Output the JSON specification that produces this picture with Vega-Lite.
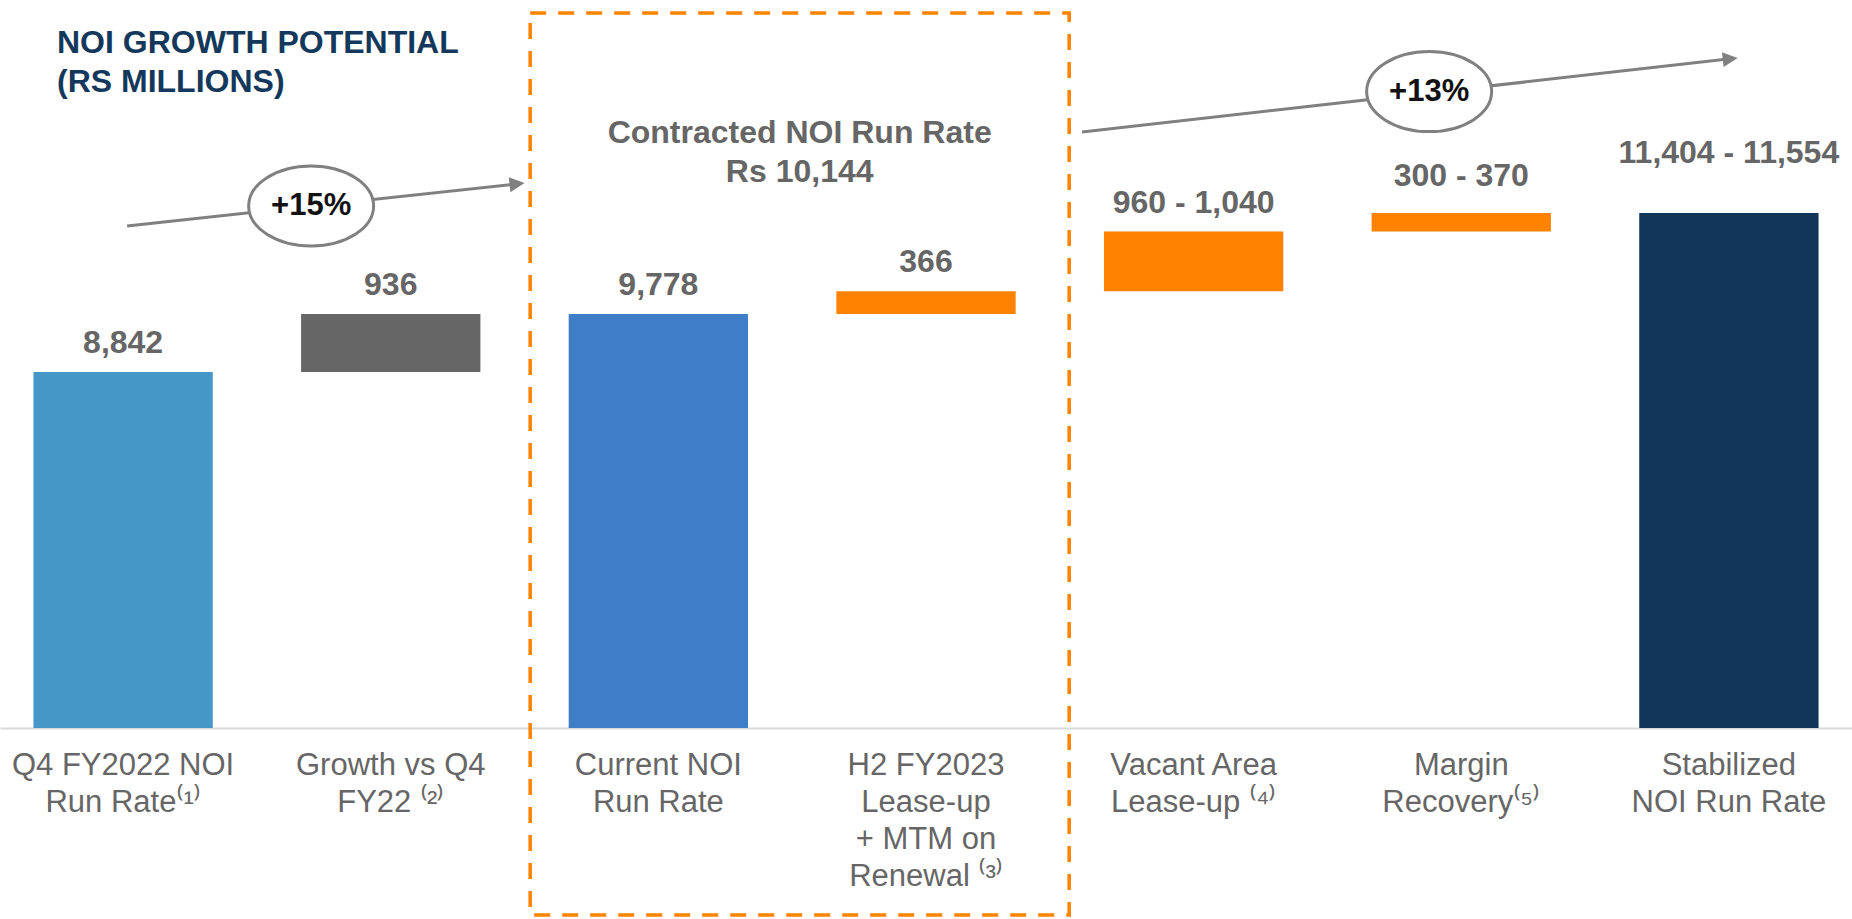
{
  "$schema": "https://vega.github.io/schema/vega-lite/v6.json",
  "width": 1852,
  "height": 728,
  "padding": 0,
  "background": "#ffffff",
  "config": {"view": {"stroke": null}, "font": "Liberation Sans"},
  "title": {
    "text": ["NOI GROWTH POTENTIAL", "(RS MILLIONS)"],
    "anchor": "start",
    "frame": "group",
    "orient": "top",
    "offset": -124,
    "dx": 57,
    "font": "Liberation Sans",
    "fontSize": 32,
    "fontWeight": "bold",
    "color": "#13385C",
    "lineHeight": 39,
    "baseline": "alphabetic"
  },
  "datasets": {
    "steps": [
      {"step": "Q4 FY2022 NOI|Run Rate⁽¹⁾", "kind": "base", "start": 0, "end": 8842, "label": "8,842"},
      {"step": "Growth vs Q4|FY22 ⁽²⁾", "kind": "growth", "start": 8842, "end": 9778, "label": "936"},
      {"step": "Current NOI|Run Rate", "kind": "current", "start": 0, "end": 9778, "label": "9,778"},
      {"step": "H2 FY2023|Lease-up|+ MTM on|Renewal ⁽³⁾", "kind": "upside", "start": 9778, "end": 10144, "label": "366"},
      {"step": "Vacant Area|Lease-up ⁽⁴⁾", "kind": "upside", "start": 10144, "end": 11104, "label": "960 - 1,040"},
      {"step": "Margin|Recovery⁽⁵⁾", "kind": "upside", "start": 11104, "end": 11404, "label": "300 - 370"},
      {"step": "Stabilized|NOI Run Rate", "kind": "stabilized", "start": 0, "end": 11404, "label": "11,404 - 11,554"}
    ],
    "growth": [
      {"pct": "+15%", "x0": 0.015, "y0": 11195, "x1": 1.472, "y1": 11873, "cx": 0.7025, "cy": 11517},
      {"pct": "+13%", "x0": 3.583, "y0": 12710, "x1": 6.005, "y1": 13888, "cx": 4.88, "cy": 13360}
    ],
    "contracted": [
      {"x0": 1.521, "x1": 3.535, "y0": 93, "y1": 14627, "tx": 2.528, "ty": 12693, "note": ["Contracted NOI Run Rate", "Rs 10,144"]}
    ]
  },
  "resolve": {"scale": {"x": "independent"}, "axis": {"x": "independent"}},
  "layer": [
    {
      "data": {"name": "steps"},
      "encoding": {
        "x": {
          "field": "step",
          "type": "nominal",
          "sort": null,
          "scale": {"paddingInner": 0.33, "paddingOuter": 0.125},
          "axis": {
            "orient": "bottom",
            "title": null,
            "ticks": false,
            "tickSize": 0,
            "domain": true,
            "domainColor": "#D9D9D9",
            "domainWidth": 2,
            "labelAngle": 0,
            "labelFont": "Liberation Sans",
            "labelFontSize": 31,
            "labelColor": "#666666",
            "labelLineHeight": 37,
            "labelPadding": 22,
            "labelLimit": 400,
            "labelOverlap": false,
            "labelBound": false,
            "labelExpr": "split(datum.label, '|')"
          }
        }
      },
      "layer": [
        {
          "mark": {"type": "bar", "clip": true},
          "encoding": {
            "y": {"field": "start", "type": "quantitative", "scale": {"domain": [3106, 14836], "nice": false, "zero": false}, "axis": null},
            "y2": {"field": "end"},
            "color": {
              "field": "kind",
              "type": "nominal",
              "scale": {
                "domain": ["base", "growth", "current", "upside", "stabilized"],
                "range": ["#4497C7", "#666666", "#3F7DC6", "#FF8200", "#12355A"]
              },
              "legend": null
            }
          }
        },
        {
          "transform": [{"filter": "datum.kind != 'stabilized' && datum.label != '300 - 370'"}],
          "mark": {"type": "text", "align": "center", "baseline": "alphabetic", "dy": -19, "font": "Liberation Sans", "fontSize": 32, "fontWeight": "bold", "fill": "#666666"},
          "encoding": {
            "y": {"field": "end", "type": "quantitative", "scale": {"domain": [3106, 14836], "nice": false, "zero": false}, "axis": null},
            "text": {"field": "label"}
          }
        },
        {
          "transform": [{"filter": "datum.label == '300 - 370'"}],
          "mark": {"type": "text", "align": "center", "baseline": "alphabetic", "dy": -27, "font": "Liberation Sans", "fontSize": 32, "fontWeight": "bold", "fill": "#666666"},
          "encoding": {
            "y": {"field": "end", "type": "quantitative", "scale": {"domain": [3106, 14836], "nice": false, "zero": false}, "axis": null},
            "text": {"field": "label"}
          }
        },
        {
          "transform": [{"filter": "datum.kind == 'stabilized'"}],
          "mark": {"type": "text", "align": "center", "baseline": "alphabetic", "dy": -50, "font": "Liberation Sans", "fontSize": 32, "fontWeight": "bold", "fill": "#666666"},
          "encoding": {
            "y": {"field": "end", "type": "quantitative", "scale": {"domain": [3106, 14836], "nice": false, "zero": false}, "axis": null},
            "text": {"field": "label"}
          }
        }
      ]
    },
    {
      "layer": [
        {
          "data": {"name": "contracted"},
          "mark": {"type": "rect", "filled": false, "stroke": "#FF8200", "strokeWidth": 3.5, "strokeDash": [16, 12]},
          "encoding": {
            "x": {"field": "x0", "type": "quantitative", "scale": {"domain": [-0.46, 6.46], "nice": false, "zero": false}, "axis": null},
            "x2": {"field": "x1"},
            "y": {"field": "y0", "type": "quantitative", "scale": {"domain": [3106, 14836], "nice": false, "zero": false}, "axis": null},
            "y2": {"field": "y1"}
          }
        },
        {
          "data": {"name": "contracted"},
          "mark": {"type": "text", "align": "center", "baseline": "middle", "font": "Liberation Sans", "fontSize": 32, "fontWeight": "bold", "fill": "#666666", "lineHeight": 39},
          "encoding": {
            "x": {"field": "tx", "type": "quantitative", "axis": null},
            "y": {"field": "ty", "type": "quantitative", "scale": {"domain": [3106, 14836], "nice": false, "zero": false}, "axis": null},
            "text": {"field": "note"}
          }
        },
        {
          "data": {"name": "growth"},
          "mark": {"type": "rule", "stroke": "#808080", "strokeWidth": 3},
          "encoding": {
            "x": {"field": "x0", "type": "quantitative", "axis": null},
            "x2": {"field": "x1"},
            "y": {"field": "y0", "type": "quantitative", "scale": {"domain": [3106, 14836], "nice": false, "zero": false}, "axis": null},
            "y2": {"field": "y1"}
          }
        },
        {
          "data": {"name": "growth"},
          "mark": {"type": "point", "shape": "M1,0L-1,-1L-1,1Z", "size": 225, "angle": -6.3, "filled": true, "fill": "#808080", "strokeWidth": 0, "opacity": 1},
          "encoding": {
            "x": {"field": "x1", "type": "quantitative", "axis": null},
            "y": {"field": "y1", "type": "quantitative", "scale": {"domain": [3106, 14836], "nice": false, "zero": false}, "axis": null}
          }
        },
        {
          "data": {"name": "growth"},
          "mark": {"type": "point", "shape": "M-1,0A1,0.64,0,1,1,1,0A1,0.64,0,1,1,-1,0Z", "size": 15625, "filled": true, "fill": "#ffffff", "stroke": "#808080", "strokeWidth": 3, "opacity": 1},
          "encoding": {
            "x": {"field": "cx", "type": "quantitative", "axis": null},
            "y": {"field": "cy", "type": "quantitative", "scale": {"domain": [3106, 14836], "nice": false, "zero": false}, "axis": null}
          }
        },
        {
          "data": {"name": "growth"},
          "mark": {"type": "text", "align": "center", "baseline": "middle", "font": "Liberation Sans", "fontSize": 31, "fontWeight": "bold", "fill": "#111111"},
          "encoding": {
            "x": {"field": "cx", "type": "quantitative", "axis": null},
            "y": {"field": "cy", "type": "quantitative", "scale": {"domain": [3106, 14836], "nice": false, "zero": false}, "axis": null},
            "text": {"field": "pct"}
          }
        }
      ]
    }
  ]
}
